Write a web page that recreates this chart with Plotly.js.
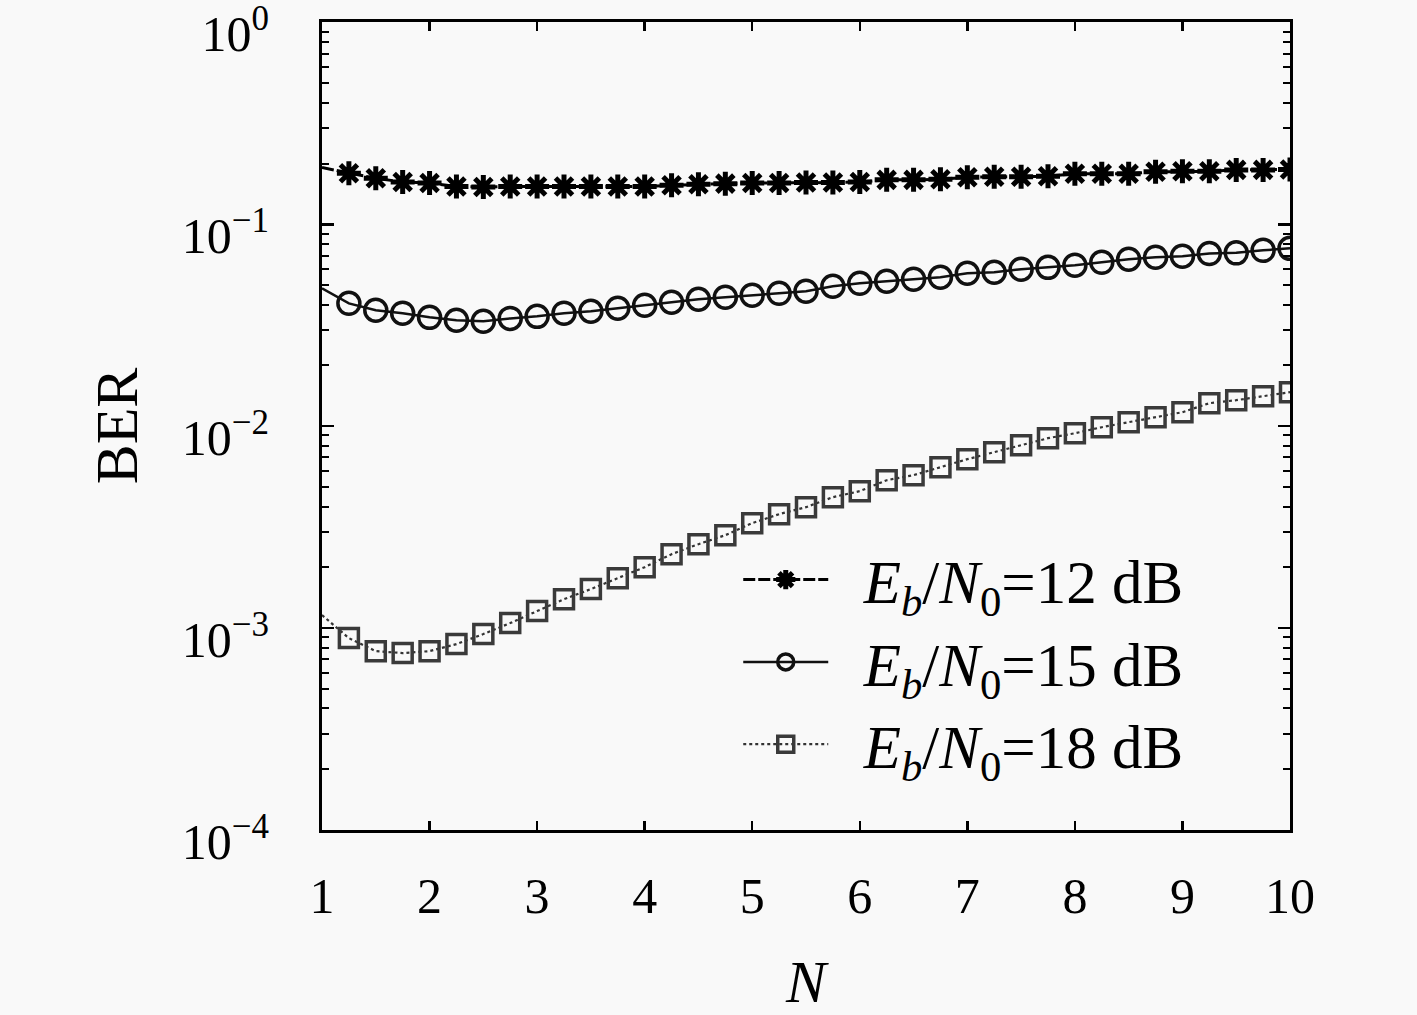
<!DOCTYPE html>
<html>
<head>
<meta charset="utf-8">
<script src="https://cdn.plot.ly/plotly-3.0.1.min.js"></script>
<style>
  html, body { margin: 0; padding: 0; background: #f9f9f9; }
  #chart { width: 1417px; height: 1015px; }
</style>
</head>
<body>
<div id="chart"></div>
<script>
// N values (x axis)
var nValues = [1, 1.25, 1.5, 1.75, 2, 2.25, 2.5, 2.75, 3, 3.25, 3.5, 3.75, 4,
  4.25, 4.5, 4.75, 5, 5.25, 5.5, 5.75, 6, 6.25, 6.5, 6.75, 7, 7.25, 7.5, 7.75,
  8, 8.25, 8.5, 8.75, 9, 9.25, 9.5, 9.75, 10];

// BER
var ber12 = [0.191, 0.179, 0.169, 0.162, 0.160, 0.154, 0.153, 0.154, 0.154,
  0.154, 0.154, 0.154, 0.154, 0.156, 0.158, 0.159, 0.160, 0.160, 0.161, 0.161,
  0.162, 0.166, 0.166, 0.167, 0.171, 0.172, 0.172, 0.173, 0.178, 0.178, 0.178,
  0.182, 0.183, 0.183, 0.186, 0.186, 0.187];

var ber15 = [0.0482, 0.0406, 0.0375, 0.0363, 0.0346, 0.0335, 0.0331, 0.0342,
  0.0350, 0.0363, 0.0371, 0.0384, 0.0397, 0.0411, 0.0425, 0.0435, 0.0445,
  0.0455, 0.0466, 0.0493, 0.0510, 0.0522, 0.0534, 0.0547, 0.0572, 0.0579,
  0.0599, 0.0612, 0.0627, 0.0648, 0.0671, 0.0687, 0.0694, 0.0716, 0.0722,
  0.0743, 0.0760];

var ber18 = [1.16e-3, 8.92e-4, 7.69e-4, 7.52e-4, 7.69e-4, 8.33e-4, 9.34e-4,
  1.059e-3, 1.214e-3, 1.391e-3, 1.560e-3, 1.768e-3, 2.004e-3, 2.324e-3,
  2.604e-3, 2.886e-3, 3.310e-3, 3.667e-3, 3.972e-3, 4.452e-3, 4.767e-3,
  5.402e-3, 5.721e-3, 6.266e-3, 6.866e-3, 7.435e-3, 8.054e-3, 8.722e-3,
  9.23e-3, 9.886e-3, 1.047e-2, 1.108e-2, 1.173e-2, 1.300e-2, 1.345e-2,
  1.408e-2, 1.474e-2];

var gap = '\u00a0\u00a0';
var seriesNames = [
  gap + '<i>E</i><sub><i>b</i></sub>/<i>N</i><sub>0</sub>=12 dB',
  gap + '<i>E</i><sub><i>b</i></sub>/<i>N</i><sub>0</sub>=15 dB',
  gap + '<i>E</i><sub><i>b</i></sub>/<i>N</i><sub>0</sub>=18 dB'
];

var yTickVals = [1e-4, 1e-3, 1e-2, 1e-1, 1];
var yTickText = ['10<sup>\u22124</sup>', '10<sup>\u22123</sup>',
  '10<sup>\u22122</sup>', '10<sup>\u22121</sup>', '10<sup>0</sup>'];
var xTickVals = [1, 2, 3, 4, 5, 6, 7, 8, 9, 10];

// no marker on the first point (N = 1)
function sizes(s) {
  var out = [];
  for (var i = 0; i < nValues.length; i++) out.push(i === 0 ? 0 : s);
  return out;
}

var font = 'Liberation Serif, DejaVu Serif, serif';

var data = [
  {
    x: nValues, y: ber12, name: seriesNames[0],
    type: 'scatter', mode: 'lines+markers',
    line: { color: '#000', width: 3, dash: '12px,3px' },
    marker: { symbol: 'asterisk-open', size: sizes(20), color: '#000', opacity: 1,
      line: { color: '#000', width: 5 } }
  },
  {
    x: nValues, y: ber15, name: seriesNames[1],
    type: 'scatter', mode: 'lines+markers',
    line: { color: '#111', width: 2.5 },
    marker: { symbol: 'circle-open', size: sizes(22), color: '#111', opacity: 1,
      line: { color: '#111', width: 3.5 } }
  },
  {
    x: nValues, y: ber18, name: seriesNames[2],
    type: 'scatter', mode: 'lines+markers',
    line: { color: '#333', width: 2.2, dash: '3px,3px' },
    marker: { symbol: 'square-open', size: sizes(19), color: '#3a3a3a', opacity: 1,
      line: { color: '#3a3a3a', width: 3.5 } }
  }
];

var layout = {
  width: 1417, height: 1015,
  paper_bgcolor: '#f9f9f9', plot_bgcolor: '#f9f9f9',
  margin: { l: 322, r: 127, t: 22, b: 185 },
  font: { family: font, size: 50, color: '#000' },
  showlegend: true,
  legend: {
    x: 0.43, y: 0.367, xanchor: 'left', yanchor: 'top',
    bgcolor: 'rgba(0,0,0,0)', borderwidth: 0,
    font: { family: font, size: 61, color: '#000' },
    itemwidth: 85
  },
  xaxis: {
    type: 'linear', range: [1, 10],
    tickmode: 'array', tickvals: xTickVals,
    ticks: 'inside', ticklen: 9, tickwidth: 2.5, tickcolor: '#000',
    ticklabelstandoff: 20,
    showline: true, linewidth: 3, linecolor: '#000', mirror: 'ticks',
    showgrid: false, zeroline: false,
    title: { text: '<i>N</i>', font: { family: font, size: 60 }, standoff: 46 }
  },
  yaxis: {
    type: 'log', range: [-4, 0.002],
    tickmode: 'array', tickvals: yTickVals, ticktext: yTickText,
    ticks: 'inside', ticklen: 12, tickwidth: 2.5, tickcolor: '#000',
    ticklabelstandoff: 40, ticklabeloverflow: 'allow', ticklabelshift: 11,
    tickfont: { family: font, size: 50 },
    minor: { dtick: 'D1', ticks: 'inside', ticklen: 7, tickwidth: 2, tickcolor: '#000', showgrid: false },
    showline: true, linewidth: 3, linecolor: '#000', mirror: 'ticks',
    showgrid: false, zeroline: false,
    title: { text: 'BER', font: { family: font, size: 60 }, standoff: 25 }
  }
};

Plotly.newPlot('chart', data, layout, { displayModeBar: false, staticPlot: true });
</script>
</body>
</html>
